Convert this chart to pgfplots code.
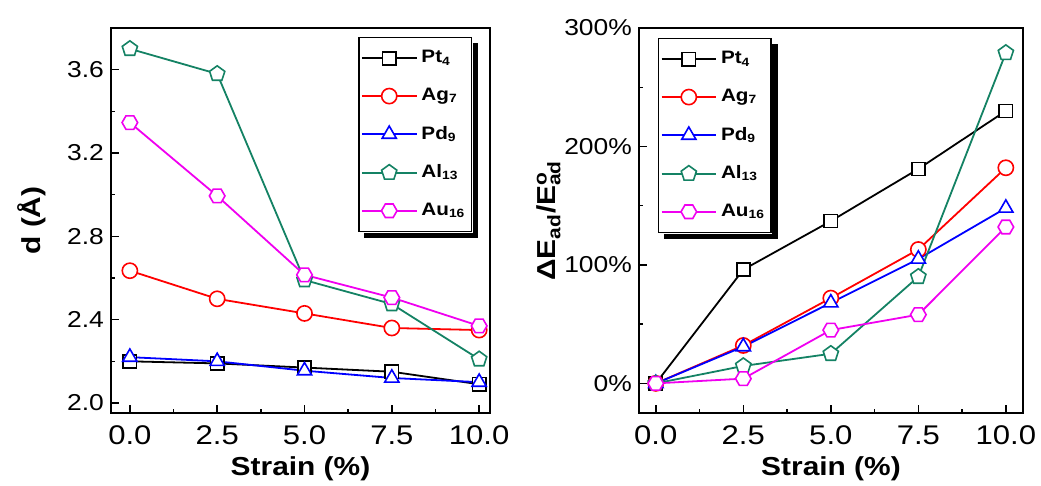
\documentclass[border=0pt]{standalone}
\usepackage{fontspec}
\setmainfont{Liberation Sans}[FakeStretch=1.15]
\usepackage{pgfplots}
\pgfplotsset{compat=1.18}
\definecolor{alg}{RGB}{20,130,100}
\definecolor{mag}{RGB}{240,0,240}
\pgfdeclareplotmark{hexagon}{%
  \pgfpathmoveto{\pgfqpointpolar{0}{\pgfplotmarksize}}%
  \pgfpathlineto{\pgfqpointpolar{60}{\pgfplotmarksize}}%
  \pgfpathlineto{\pgfqpointpolar{120}{\pgfplotmarksize}}%
  \pgfpathlineto{\pgfqpointpolar{180}{\pgfplotmarksize}}%
  \pgfpathlineto{\pgfqpointpolar{240}{\pgfplotmarksize}}%
  \pgfpathlineto{\pgfqpointpolar{300}{\pgfplotmarksize}}%
  \pgfpathclose
  \pgfusepathqfillstroke}
\pgfplotsset{
  myaxis/.style={
    scale only axis, height=192.5pt,
    axis line style={line width=0.8pt},
    tick align=inside, xtick pos=bottom, ytick pos=left,
    major tick length=4pt, minor tick length=2.2pt,
    every tick/.style={black, line width=0.7pt},
    minor x tick num=1, minor y tick num=1,
    xtick={0,2.5,5,7.5,10}, xticklabels={0.0,2.5,5.0,7.5,10.0},
    x tick label style={font=\fontsize{13.5}{14}\selectfont, yshift=-3pt},
    y tick label style={font=\fontsize{11.5}{12}\selectfont},
    xlabel={Strain (\%)},
    label style={font=\bfseries\fontsize{13}{14}\selectfont},
    xlabel style={yshift=1pt},
    legend style={draw=black, line width=0.6pt, fill=white,
      font=\bfseries\fontsize{9}{10}\selectfont,
      row sep=7.2pt, inner xsep=1pt, inner ysep=4.5pt},
    legend cell align=left,
    legend image code/.code={\draw[line width=0.9pt,mark repeat=2,mark phase=2] plot coordinates {(0cm,0cm)(0.48cm,0cm)(0.96cm,0cm)};},
    every axis plot/.append style={line width=0.9pt},
  },
  spt/.style={black, mark=square*, mark size=3.3pt, mark options={fill=white,solid,line width=0.8pt}},
  sag/.style={red, mark=*, mark size=3.8pt, mark options={fill=white,solid,line width=0.8pt}},
  spd/.style={blue, mark=triangle*, mark size=4.1pt, mark options={fill=white,solid,line width=0.8pt}},
  sal/.style={alg, mark=pentagon*, mark size=4pt, mark options={fill=white,solid,line width=0.8pt}},
  sau/.style={mag, mark=hexagon, mark size=3.9pt, mark options={fill=white,solid,line width=0.8pt}},
}
\begin{document}
\begin{tikzpicture}
\useasboundingbox (0,0) rectangle (520.5pt,243pt);
\begin{axis}[myaxis, at={(55.5pt,36.5pt)}, anchor=south west, width=189.5pt,
  xmin=-0.54, xmax=10.31, ymin=1.952, ymax=3.80,
  ytick={2.0,2.4,2.8,3.2,3.6}, yticklabels={2.0,2.4,2.8,3.2,3.6},
  ylabel={d (Å)}, ylabel style={yshift=4pt},
  legend style={at={(0.9525,0.9766)}, anchor=north east, name=legL}]
\addplot[spt] coordinates {(0,2.20)(2.5,2.19)(5,2.17)(7.5,2.15)(10,2.09)};
\addlegendentry{Pt\textsubscript{4}}
\addplot[sag] coordinates {(0,2.635)(2.5,2.50)(5,2.43)(7.5,2.36)(10,2.35)};
\addlegendentry{Ag\textsubscript{7}}
\addplot[spd] coordinates {(0,2.22)(2.5,2.20)(5,2.155)(7.5,2.12)(10,2.10)};
\addlegendentry{Pd\textsubscript{9}}
\addplot[sal] coordinates {(0,3.70)(2.5,3.58)(5,2.59)(7.5,2.475)(10,2.21)};
\addlegendentry{Al\textsubscript{13}}
\addplot[sau] coordinates {(0,3.346)(2.5,2.994)(5,2.615)(7.5,2.506)(10,2.37)};
\addlegendentry{Au\textsubscript{16}}
\end{axis}
\begin{axis}[myaxis, at={(319.5pt,36.5pt)}, anchor=south west, width=192pt,
  xmin=-0.48, xmax=10.49, ymin=-25, ymax=300,
  ytick={0,100,200,300}, yticklabels={0\%,100\%,200\%,300\%},
  ylabel={ΔE\textsubscript{ad}/E\rlap{\textsuperscript{o}}\textsubscript{ad}},
  ylabel style={yshift=-5pt},
  legend style={at={(0.0495,0.974)}, anchor=north west, name=legR}]
\addplot[spt] coordinates {(0,0)(2.5,96)(5,137)(7.5,181)(10,230)};
\addlegendentry{Pt\textsubscript{4}}
\addplot[sag] coordinates {(0,0)(2.5,32)(5,72)(7.5,113)(10,182)};
\addlegendentry{Ag\textsubscript{7}}
\addplot[spd] coordinates {(0,0)(2.5,31)(5,68)(7.5,105)(10,148)};
\addlegendentry{Pd\textsubscript{9}}
\addplot[sal] coordinates {(0,0)(2.5,14.7)(5,25)(7.5,90)(10,279)};
\addlegendentry{Al\textsubscript{13}}
\addplot[sau] coordinates {(0,0)(2.5,4)(5,45)(7.5,58)(10,132)};
\addlegendentry{Au\textsubscript{16}}
\end{axis}
\foreach \L in {legL,legR}{
  \fill[black] ([xshift=0.3pt,yshift=-3pt]\L.north east) rectangle ([xshift=3pt,yshift=-0.3pt]\L.south east);
  \fill[black] ([xshift=3pt,yshift=-0.3pt]\L.south west) rectangle ([xshift=3pt,yshift=-3pt]\L.south east);
}
\end{tikzpicture}
\end{document}
